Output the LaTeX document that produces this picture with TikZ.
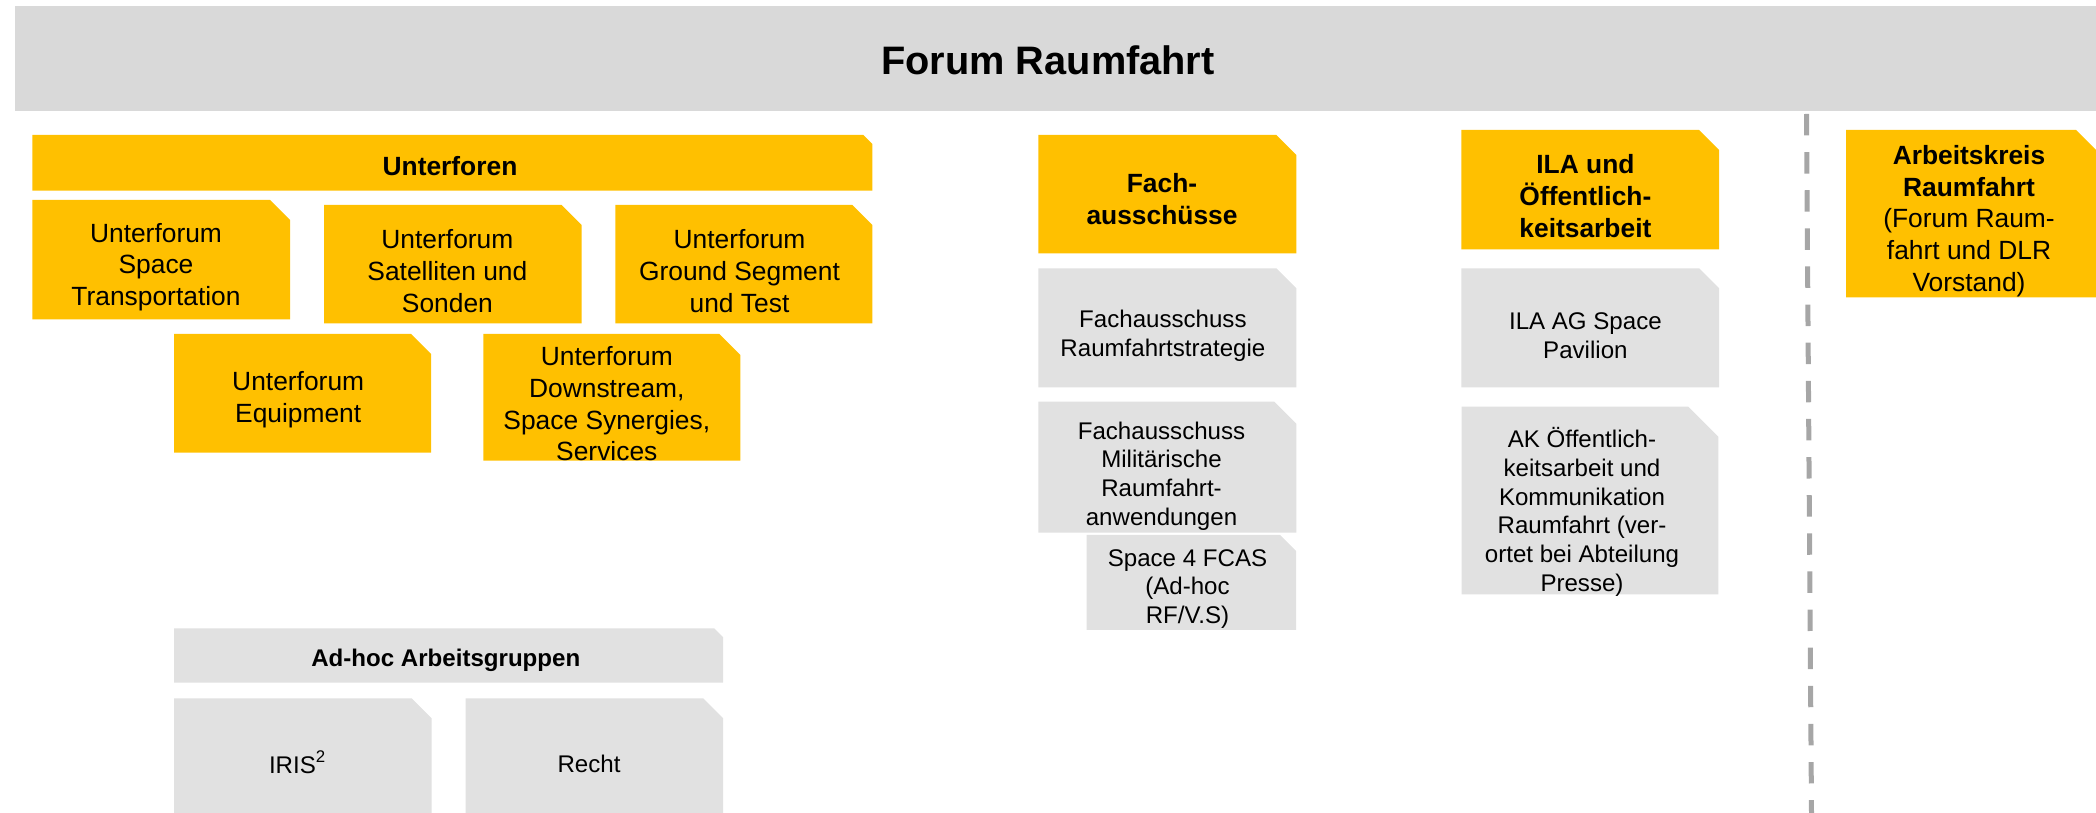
\documentclass[tikz,border=0pt]{standalone}
\usepackage{fontspec}
\setmainfont{Liberation Sans}
\usetikzlibrary{positioning}

\definecolor{forumyellow}{HTML}{FFC000}
\definecolor{headgrey}{HTML}{D9D9D9}
\definecolor{boxgrey}{HTML}{E1E1E1}
\definecolor{lineGrey}{HTML}{A6A6A6}

% box with snipped upper right corner: fill, x1, y1, x2, y2, cut
\newcommand{\snipbox}[6]{%
  \fill[#1] (#2,#3) -- ({#4-#6},#3) -- (#4,{#3+#6}) -- (#4,#5) -- (#2,#5) -- cycle;}

\begin{document}
\begin{tikzpicture}[x=0.01cm, y=-0.01cm,
  ytext/.style={align=center, inner sep=0pt, font=\fontsize{7.5}{9}\selectfont},
  gtext/.style={align=center, inner sep=0pt, font=\fontsize{6.85}{8.15}\selectfont},
  sepline/.style={color=lineGrey, line width=0.05cm, dash pattern=on 0.214cm off 0.167cm}]
\useasboundingbox (0,0) rectangle (2096,813);
\clip (0,0) rectangle (2096,813);

% header
\fill[headgrey] (15,6) rectangle (2096,110.7);
\node[font=\bfseries\fontsize{11.3}{13}\selectfont] (title) at (1048,60) {Forum Raumfahrt};

% Unterforen
\snipbox{forumyellow}{32.3}{135}{872.4}{190.7}{9}
\snipbox{forumyellow}{32.3}{200}{290.2}{319.3}{20}
\snipbox{forumyellow}{324}{205}{581.6}{323.3}{20}
\snipbox{forumyellow}{615.4}{205}{872.4}{323.3}{20}
\snipbox{forumyellow}{174}{334}{431}{452.7}{20}
\snipbox{forumyellow}{483.4}{334}{740.4}{460.7}{21}
\node[ytext, font=\bfseries\fontsize{7.5}{9}\selectfont] (unterforen) at (450,166) {Unterforen};
\node[ytext] (uspace) at (156,267) {Unterforum\\Space\\Transportation};
\node[ytext] (usat) at (447.4,271) {Unterforum\\Satelliten und\\Sonden};
\node[ytext] (uground) at (739.5,271) {Unterforum\\Ground Segment\\und Test};
\node[ytext] (uequip) at (298.2,400) {Unterforum\\Equipment};
\node[ytext] (udown) at (606.8,404) {Unterforum\\Downstream,\\Space Synergies,\\Services};

% Ad-hoc Arbeitsgruppen
\snipbox{boxgrey}{174}{628.3}{723.2}{682.7}{9}
\snipbox{boxgrey}{174}{698.3}{431.7}{817}{20}
\snipbox{boxgrey}{465.6}{698.3}{723.2}{817}{20}
\node[gtext, font=\bfseries\fontsize{6.85}{8.15}\selectfont] (adhoc) at (445.8,660) {Ad-hoc Arbeitsgruppen};
\node[gtext] (iris) at (298,762) {IRIS\textsuperscript{2}};
\node[gtext] (recht) at (589,764) {Recht};

% Fachausschuesse
\snipbox{forumyellow}{1038.4}{135}{1296.4}{253.3}{20}
\snipbox{boxgrey}{1038.4}{268.3}{1296.4}{387.3}{20}
\snipbox{boxgrey}{1038.4}{401.7}{1296.4}{532.7}{22}
\snipbox{boxgrey}{1086.7}{535}{1296}{630}{16}
\node[ytext, font=\bfseries\fontsize{7.5}{9}\selectfont] (fach) at (1162,199) {Fach-\\ausschüsse};
\node[gtext] (fstrat) at (1162.9,336) {Fachausschuss\\Raumfahrtstrategie};
\node[gtext] (fmil) at (1161.5,476) {Fachausschuss\\Militärische\\Raumfahrt-\\anwendungen};
\node[gtext] (fcas) at (1187.5,589) {Space 4 FCAS\\(Ad-hoc\\RF/V.S)};

% ILA und Oeffentlichkeitsarbeit
\snipbox{forumyellow}{1461.3}{130}{1719.2}{249.3}{20}
\snipbox{boxgrey}{1461.3}{268.3}{1719.2}{387.3}{20}
\snipbox{boxgrey}{1461.7}{406.7}{1718.3}{594.3}{30}
\node[ytext, font=\bfseries\fontsize{7.5}{9}\selectfont] (ila) at (1585.4,196) {ILA und\\Öffentlich-\\keitsarbeit};
\node[gtext] (pavilion) at (1585.4,336) {ILA AG Space\\Pavilion};
\node[gtext] (akoeff) at (1582,512) {AK Öffentlich-\\keitsarbeit und\\Kommunikation\\Raumfahrt (ver-\\ortet bei Abteilung\\Presse)};

% separator and Arbeitskreis
\draw[sepline] (1806.5,114) -- (1811.5,813);
\snipbox{forumyellow}{1846}{130}{2104}{297.3}{27.8}
\node[ytext] (akraum) at (1969,221) {\textbf{Arbeitskreis}\\\textbf{Raumfahrt}\\(Forum Raum-\\fahrt und DLR\\Vorstand)};
\end{tikzpicture}
\end{document}
